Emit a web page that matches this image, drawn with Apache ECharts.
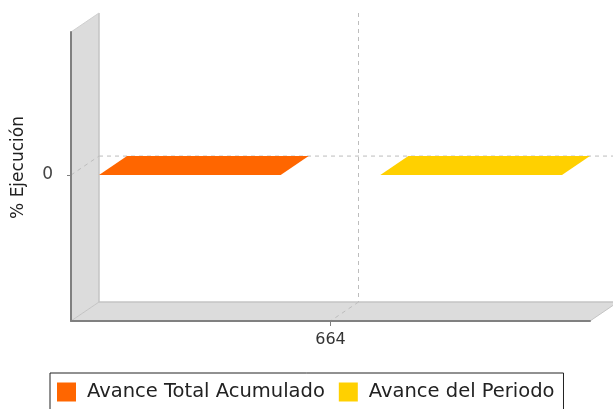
<!DOCTYPE html>
<html>
<head>
<meta charset="utf-8">
<script src="https://cdn.jsdelivr.net/npm/echarts@6/dist/echarts.min.js"></script>
<style>
html,body{margin:0;padding:0;background:#fff;}
#c{width:613px;height:409px;}
</style>
</head>
<body>
<div id="c"></div>
<script>
// ---- data ----
const categories = ['664'];
const seriesNames = ['Avance Total Acumulado', 'Avance del Periodo'];
const avanceTotalAcumulado = [0];
const avanceDelPeriodo = [0];
const yTickValues = [0];
const yAxisTitle = '% Ejecución';

// ---- styling ----
const seriesColors = ['#ff6600', '#ffd000'];
const DX = 28, DY = -19;           // 3D depth offset
const FONT = 'DejaVu Sans';
const barFrac = 0.35, outerFrac = 0.054, gapFrac = 1 - 2 * outerFrac - 2 * barFrac;

function wallRender(params, api) {
  const cs = params.coordSys;
  const x0 = cs.x, x1 = cs.x + cs.width, y0 = cs.y, y1 = cs.y + cs.height;
  const yz = api.coord([0, 0])[1];
  const xc = api.coord([0, 0])[0];
  const grid = { stroke: '#bdbdbd', lineWidth: 1, lineDash: [4, 4] };
  return {
    type: 'group',
    children: [
      { type: 'polygon', shape: { points: [[x0, y0], [x0 + DX, y0 + DY], [x0 + DX, y1 + DY], [x0, y1]] }, style: { fill: '#dcdcdc' } },
      { type: 'polygon', shape: { points: [[x0, y1], [x0 + DX, y1 + DY], [x1 + DX, y1 + DY], [x1, y1]] }, style: { fill: '#dcdcdc' } },
      { type: 'line', shape: { x1: x0 + DX, y1: y0 + DY, x2: x0 + DX, y2: y1 + DY }, style: { stroke: '#c4c4c4', lineWidth: 1.5 } },
      { type: 'line', shape: { x1: x0 + DX, y1: y1 + DY, x2: x1 + DX, y2: y1 + DY }, style: { stroke: '#c4c4c4', lineWidth: 1.5 } },
      { type: 'line', shape: { x1: x0, y1: y0, x2: x0 + DX, y2: y0 + DY }, style: { stroke: '#d0d0d0', lineWidth: 1 } },
      { type: 'line', shape: { x1: x0, y1: y1, x2: x0 + DX, y2: y1 + DY }, style: { stroke: '#c4c4c4', lineWidth: 1 } },
      { type: 'line', shape: { x1: x1, y1: y1, x2: x1 + DX, y2: y1 + DY }, style: { stroke: '#c4c4c4', lineWidth: 1 } },
      // value gridline at 0
      { type: 'line', shape: { x1: x0, y1: yz, x2: x0 + DX, y2: yz + DY }, style: grid },
      { type: 'line', shape: { x1: x0 + DX, y1: yz + DY, x2: x1 + DX, y2: yz + DY }, style: grid },
      // category gridline
      { type: 'line', shape: { x1: xc + DX, y1: y0 + DY, x2: xc + DX, y2: y1 + DY }, style: grid },
      { type: 'line', shape: { x1: xc + DX, y1: y1 + DY, x2: xc, y2: y1 }, style: grid }
    ]
  };
}

function barRender(seriesIdx) {
  return function (params, api) {
    const cat = api.value(0), val = api.value(1);
    const base = api.coord([cat, 0]);
    const top = api.coord([cat, val]);
    const band = api.size([1, 0])[0];
    const left = base[0] - band / 2 + band * (outerFrac + seriesIdx * (barFrac + gapFrac));
    const w = band * barFrac;
    const yt = Math.min(top[1], base[1]), yb = Math.max(top[1], base[1]);
    const color = api.visual('color');
    const dark = echarts.color.lift(color, -0.2);
    return {
      type: 'group',
      children: [
        { type: 'rect', shape: { x: left, y: yt, width: w, height: yb - yt }, style: { fill: color } },
        { type: 'polygon', shape: { points: [[left + w, yt], [left + w + DX, yt + DY], [left + w + DX, yb + DY], [left + w, yb]] }, style: { fill: dark } },
        { type: 'polygon', shape: { points: [[left, yt], [left + w, yt], [left + w + DX, yt + DY], [left + DX, yt + DY]] }, style: { fill: color } }
      ]
    };
  };
}

const seriesData = [avanceTotalAcumulado, avanceDelPeriodo];

const chart = echarts.init(document.getElementById('c'), null, { renderer: 'canvas' });
chart.setOption({
  animation: false,
  backgroundColor: '#ffffff',
  textStyle: { fontFamily: FONT },
  grid: { left: 71, right: 23, top: 32, bottom: 88 },
  xAxis: {
    type: 'category',
    data: categories,
    z: 5,
    axisLine: { show: true, onZero: false, lineStyle: { color: '#808080', width: 2 } },
    axisTick: { show: true, alignWithLabel: true, length: 5, lineStyle: { color: '#808080' } },
    axisLabel: { fontSize: 16, color: '#333', margin: 11, fontFamily: FONT },
    splitLine: { show: false }
  },
  yAxis: {
    type: 'value',
    min: -1.02,
    max: 1,
    z: 5,
    name: yAxisTitle,
    nameLocation: 'middle',
    nameRotate: 90,
    nameGap: 44,
    nameTextStyle: { fontSize: 17, color: '#222', fontFamily: FONT, padding: [0, 0, 0, 18] },
    axisLine: { show: true, onZero: false, lineStyle: { color: '#808080', width: 2 } },
    axisTick: { show: true, length: 4, customValues: yTickValues, lineStyle: { color: '#808080' } },
    axisLabel: { fontSize: 17, color: '#444', margin: 18, customValues: yTickValues, fontFamily: FONT },
    splitLine: { show: false }
  },
  legend: {
    data: seriesNames,
    left: 50,
    top: 373,
    orient: 'horizontal',
    itemWidth: 19,
    itemHeight: 19,
    itemGap: 14,
    padding: [9, 9, 9, 7],
    borderColor: '#222',
    borderWidth: 1,
    borderRadius: 0,
    icon: 'rect',
    textStyle: { fontSize: 19.5, color: '#222', fontFamily: FONT, padding: [0, 0, 0, 6] }
  },
  series: [
    {
      type: 'custom',
      name: '_walls',
      silent: true,
      z: 1,
      renderItem: wallRender,
      data: [[0, 0]],
      encode: { x: 0, y: 1 }
    }
  ].concat(seriesNames.map((n, i) => ({
    type: 'custom',
    name: n,
    z: 3,
    itemStyle: { color: seriesColors[i] },
    renderItem: barRender(i),
    data: seriesData[i].map((v, j) => [j, v]),
    encode: { x: 0, y: 1 }
  })))
});
</script>
</body>
</html>
